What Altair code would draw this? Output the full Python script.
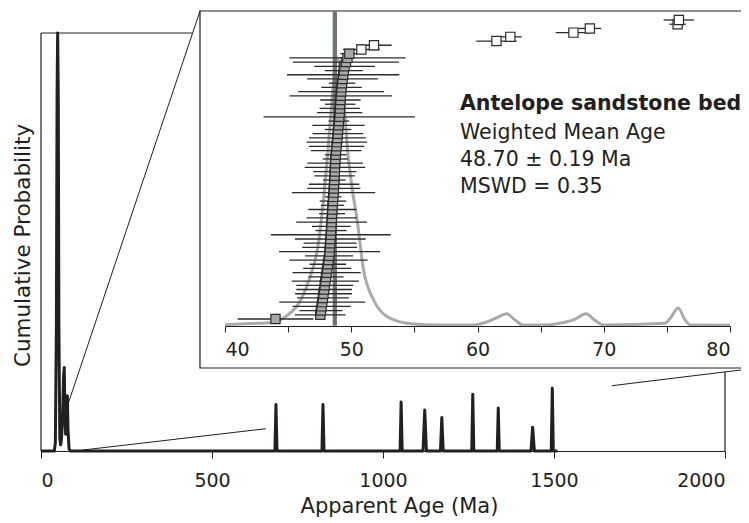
import altair as alt
import pandas as pd

# ---------------- data ----------------
# main probability curve (age in Ma, relative probability in %)
main_age = [0, 39, 42, 45, 47, 48.7, 50.5, 52.3, 55, 57.5, 60, 63, 66, 68, 70, 72, 74, 77, 79, 82, 86,
            684, 687, 690, 821.5, 824.5, 827.5, 1050, 1053, 1056, 1117, 1122, 1127,
            1168, 1172, 1176, 1259.5, 1262.5, 1265.5, 1334, 1337, 1340,
            1432.6, 1437.6, 1442.6, 1492, 1495, 1498, 1510]
main_prob = [0, 0, 2, 30, 85, 100, 85, 30, 3, 1.5, 3, 8, 18, 20, 8, 4, 6, 13.2, 5, 0.5, 0,
             0, 11.1, 0, 0, 11.1, 0, 0, 11.7, 0, 0, 9.8, 0,
             0, 8.0, 0, 0, 13.6, 0, 0, 10.3, 0,
             0, 5.7, 0, 0, 15.0, 0, 0]

# inset relative probability curve
inset_age = [40.0, 42.0, 43.7, 44.8, 46.0, 46.75, 47.4, 47.8, 48.1, 48.4, 48.7, 48.9, 49.1, 49.4,
             49.7, 50.05, 50.45, 50.97, 51.77, 52.83, 54.4, 56.0, 58.0, 59.7, 60.6, 61.5, 62.3,
             63.0, 63.6, 65.5, 66.6, 67.7, 68.6, 69.3, 70.0, 74.85, 75.3, 75.9, 76.4, 76.85, 80.0]
inset_prob = [0.004, 0.008, 0.012, 0.034, 0.096, 0.183, 0.308, 0.47, 0.62, 0.80, 0.96, 1.0, 0.97, 0.85,
              0.66, 0.52, 0.40, 0.21, 0.096, 0.034, 0.009, 0.004, 0.003, 0.003, 0.012, 0.029, 0.045,
              0.02, 0.003, 0.003, 0.01, 0.024, 0.045, 0.02, 0.003, 0.009, 0.03, 0.066, 0.025, 0.003, 0.002]

# individual grain ages (sorted) and 2-sigma errors
grain_age = [44.0,
             47.55, 47.6, 47.65, 47.7, 47.75, 47.8,
             47.85, 47.9, 47.95, 48.0, 48.05, 48.1, 48.15, 48.2,
             48.25, 48.28, 48.3, 48.33, 48.35, 48.38, 48.4, 48.42,
             48.44, 48.46, 48.48, 48.5, 48.52, 48.55, 48.57, 48.6,
             48.62, 48.64, 48.66, 48.68, 48.7, 48.71, 48.72, 48.74,
             48.77, 48.8, 48.83, 48.86, 48.9, 48.93, 48.96, 48.99,
             49.02, 49.05, 49.08, 49.1, 49.12, 49.14,
             49.17, 49.2, 49.23, 49.27, 49.31, 49.36, 49.41,
             49.47, 49.58, 49.7, 49.85,
             50.8, 51.8, 61.5, 62.6, 67.6, 68.9, 75.85, 75.95]
grain_err = [3.0,
             2.0, 1.7, 2.3, 3.4, 2.05, 2.25, 2.2, 2.25, 2.65, 1.4, 2.7, 1.9, 1.45, 3.1,
             1.9, 4.0, 2.18, 2.1, 2.8, 4.75, 1.24, 1.53, 2.8, 2.0, 1.03, 1.9, 0.92, 1.05,
             0.66, 3.3, 2.1, 2.0, 0.9, 1.6, 1.7, 2.4, 2.2, 1.0, 0.86, 2.0, 2.2, 2.4, 2.25,
             2.0, 1.05, 2.07, 0.82, 6.0, 1.8, 1.6, 1.2, 1.6, 4.06, 3.4, 1.6, 1.05, 2.8,
             4.45, 1.5, 2.4, 4.2, 4.6, 0.7,
             1.45, 1.4, 1.6, 0.9, 1.4, 0.9, 0.65, 1.2]
grain_used = ["yes"] * 64 + ["no"] * 8

mean_age = [48.70]
main_ticks = [0, 500, 1000, 1500, 2000]
inset_ticks = [40, 45, 50, 55, 60, 65, 70, 75, 80]
notes = ["Antelope sandstone bed", "Weighted Mean Age", "48.70 \u00b1 0.19 Ma", "MSWD = 0.35"]

# ---------------- tables ----------------
main_df = pd.DataFrame({"age": main_age, "prob": main_prob})
inset_df = pd.DataFrame({"age": inset_age, "p": inset_prob})
grains = pd.DataFrame({
    "row": list(range(len(grain_age))),
    "age": grain_age,
    "lo": [a - e for a, e in zip(grain_age, grain_err)],
    "hi": [a + e for a, e in zip(grain_age, grain_err)],
    "used": grain_used,
})
mean_df = pd.DataFrame({"age": mean_age})
tick_df = pd.DataFrame({"age": inset_ticks})
one = pd.DataFrame({"a": [0]})

FONT = "DejaVu Sans"
INK = "#231f20"

# ---------------- main chart ----------------
main_curve = alt.Chart(main_df).mark_line(
    color=INK, strokeWidth=3, strokeJoin="round"
).encode(
    x=alt.X("age:Q",
            scale=alt.Scale(domain=[0, 2000], nice=False),
            axis=alt.Axis(orient="bottom", values=main_ticks, format="d",
                          title="Apparent Age (Ma)",
                          grid=False, tickSize=7, labelPadding=28.7,
                          labelBaseline="alphabetic", labelFontSize=19, labelFont=FONT,
                          labelColor=INK, tickColor=INK, domainColor=INK,
                          titleFont=FONT, titleFontSize=21, titleFontWeight="normal",
                          titleColor=INK, titleX=358, titleY=61, titleAlign="center",
                          titleBaseline="alphabetic", titleAnchor="start")),
    y=alt.Y("prob:Q",
            scale=alt.Scale(domain=[0, 100], nice=False),
            axis=alt.Axis(title="Cumulative Probability", domain=False, ticks=False,
                          labels=False, grid=False, titleFont=FONT, titleFontSize=21.5,
                          titleFontWeight="normal", titleColor=INK, titleAngle=270,
                          titleX=-12, titleY=212, titleAlign="center",
                          titleBaseline="alphabetic", titleAnchor="start")),
)

# frame of the main panel (partly hidden behind the zoom cone / inset)
frame_left = alt.Chart(one).mark_rule(color=INK, strokeWidth=1.2).encode(
    x=alt.value(0), x2=alt.value(0), y=alt.value(0), y2=alt.value(418))
frame_top = alt.Chart(one).mark_rule(color=INK, strokeWidth=1.2).encode(
    x=alt.value(0), x2=alt.value(151), y=alt.value(0), y2=alt.value(0))
frame_right = alt.Chart(one).mark_rule(color=INK, strokeWidth=1.2).encode(
    x=alt.value(684), x2=alt.value(684), y=alt.value(339), y2=alt.value(418))

low_conn1 = alt.Chart(one).mark_rule(color=INK, strokeWidth=1).encode(
    x=alt.value(42), x2=alt.value(225), y=alt.value(417), y2=alt.value(395.7))
low_conn2 = alt.Chart(one).mark_rule(color=INK, strokeWidth=1).encode(
    x=alt.value(571), x2=alt.value(708), y=alt.value(352.7), y2=alt.value(336))

inset_box = alt.Chart(one).mark_rect(fill="white", stroke=INK, strokeWidth=1.2).encode(
    x=alt.value(159), x2=alt.value(730), y=alt.value(-22), y2=alt.value(335))

# ---------------- inset (all layers use the same explicit scales) ----------------
def xs():
    return alt.Scale(domain=[40, 80], range=[184, 689], nice=False, zero=False)

def rows():
    return alt.Scale(domain=[0, 71], range=[286, -13], nice=False, zero=False)

inset_axis = alt.Axis(orient="bottom", offset=-125, values=inset_ticks, title=None,
                      labelExpr="datum.value % 10 === 0 ? datum.label : ''",
                      grid=False, tickSize=6, labelPadding=23.3, labelBaseline="alphabetic",
                      labelFontSize=19, labelFont=FONT, labelColor=INK,
                      tickColor=INK, domainColor=INK, zindex=1)

inset_axis_layer = alt.Chart(tick_df).mark_point(opacity=0, size=1).encode(
    x=alt.X("age:Q", scale=xs(), axis=inset_axis),
)
inset_curve = alt.Chart(inset_df).mark_line(
    color="#a9abaa", strokeWidth=3, interpolate="monotone"
).encode(
    x=alt.X("age:Q", scale=xs(), axis=None),
    y=alt.Y("p:Q", scale=alt.Scale(domain=[0, 1], range=[292.7, 25], nice=False), axis=None),
)
mean_rule = alt.Chart(mean_df).mark_rule(color="#6e7673", strokeWidth=4.3).encode(
    x=alt.X("age:Q", scale=xs(), axis=None),
    y=alt.value(-22), y2=alt.value(292.7),
)
err_bars = alt.Chart(grains).mark_rule(color="#2b2b2b", strokeWidth=1.3).encode(
    x=alt.X("lo:Q", scale=xs(), axis=None),
    x2="hi:Q",
    y=alt.Y("row:Q", scale=rows(), axis=None),
)
squares = alt.Chart(grains).mark_point(
    shape="square", size=85, filled=True, opacity=1, stroke="#2b2b2b", strokeWidth=1.2
).encode(
    x=alt.X("age:Q", scale=xs(), axis=None),
    y=alt.Y("row:Q", scale=rows(), axis=None),
    fill=alt.Fill("used:N", scale=alt.Scale(domain=["yes", "no"], range=["#a8aaa9", "#ffffff"]),
                  legend=None),
)

up_conn = alt.Chart(one).mark_rule(color=INK, strokeWidth=1).encode(
    x=alt.value(27.3), x2=alt.value(159), y=alt.value(370.3), y2=alt.value(-22))

note_y = [77, 106, 133, 160]
texts = []
for i, t in enumerate(notes):
    texts.append(alt.Chart(one).mark_text(
        text=t, align="left", baseline="alphabetic", font=FONT, fontSize=20.5,
        fontWeight="bold" if i == 0 else "normal", color=INK
    ).encode(x=alt.value(419), y=alt.value(note_y[i])))

chart = alt.layer(
    frame_left, frame_top, frame_right, main_curve, low_conn1, low_conn2, inset_box,
    inset_axis_layer, inset_curve, mean_rule, err_bars, squares, up_conn, *texts
).resolve_scale(x="independent", y="independent").properties(
    width=684, height=418,
    autosize=alt.AutoSizeParams(type="none"),
    padding={"left": 33, "top": 25, "right": 16, "bottom": 72},
).configure_view(stroke=None)

chart.save("out.html", embed_options={"renderer": "svg", "actions": False})
